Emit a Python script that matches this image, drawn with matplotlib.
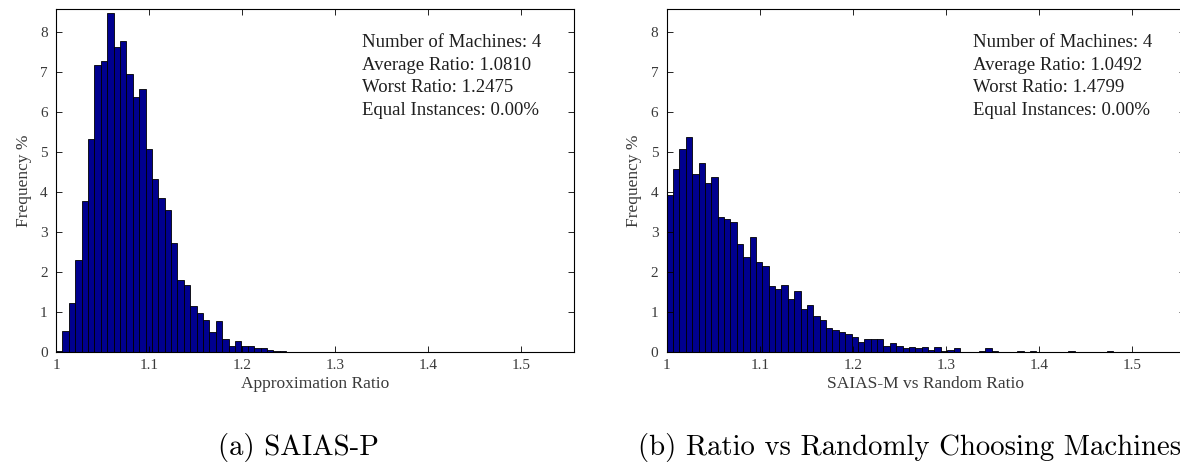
import matplotlib.pyplot as plt
import numpy as np

# histogram heights (Frequency %)
freq_p = [0.02, 0.52, 1.23, 2.29, 3.77, 5.32, 7.19, 7.29, 8.48, 7.64, 7.77, 6.96,
          6.37, 6.57, 5.08, 4.34, 3.84, 3.56, 2.72, 1.80, 1.67, 1.16, 0.97, 0.81,
          0.50, 0.77, 0.32, 0.14, 0.27, 0.15, 0.15, 0.10, 0.09, 0.05, 0.03, 0.03]
freq_m = [3.92, 4.58, 5.09, 5.37, 4.45, 4.72, 4.22, 4.38, 3.38, 3.33, 3.25, 2.69,
          2.37, 2.87, 2.26, 2.16, 1.65, 1.58, 1.68, 1.32, 1.53, 1.07, 1.17, 0.91,
          0.80, 0.61, 0.55, 0.51, 0.46, 0.37, 0.25, 0.32, 0.32, 0.32, 0.14, 0.22,
          0.16, 0.09, 0.12, 0.10, 0.12, 0.04, 0.12, 0.03, 0.05, 0.09, 0.00, 0.00,
          0.00, 0.02, 0.09, 0.02, 0.00, 0.00, 0.00, 0.02, 0.00, 0.02, 0.00, 0.00,
          0.00, 0.00, 0.00, 0.02, 0.00, 0.00, 0.00, 0.00, 0.00, 0.02]
worst_p = 1.2475
worst_m = 1.4799

info_p = ['Number of Machines: 4', 'Average Ratio: 1.0810',
          'Worst Ratio: 1.2475', 'Equal Instances: 0.00%']
info_m = ['Number of Machines: 4', 'Average Ratio: 1.0492',
          'Worst Ratio: 1.4799', 'Equal Instances: 0.00%']

xticks = [1, 1.1, 1.2, 1.3, 1.4, 1.5]
xticklabels = ['1', '1.1', '1.2', '1.3', '1.4', '1.5']
yticks = [0, 1, 2, 3, 4, 5, 6, 7, 8]

barcol = (0, 0, 0.5625)
serif = 'Liberation Serif'
fs_tick = 11
fs_lab = 12.5
fs_info = 13.5
fs_cap = 20.7

W, H = 1180, 466
fig = plt.figure(figsize=(W/100, H/100), dpi=100)


def panel(left, freq, worst, info, xlab):
	ax = fig.add_axes([left/W, (H-352)/H, 518/W, 343/H])
	nb = len(freq)
	bw = (worst-1.0)/nb
	ctr = 1.0 + bw*(np.arange(nb)+0.5)
	ax.bar(ctr, freq, width=bw, color=barcol, edgecolor='black', lw=0.6)
	ax.set_xlim(1.0, 1.557)
	ax.set_ylim(0, 8.58)
	ax.set_xticks(xticks)
	ax.set_xticklabels(xticklabels)
	ax.set_yticks(yticks)
	ax.tick_params(direction='in', top=True, right=True, length=4, width=0.6,
		labelsize=fs_tick, labelcolor='#3a3a3a')
	ax.tick_params(axis='x', pad=5)
	ax.tick_params(axis='y', pad=6)
	for lbl in ax.get_xticklabels()+ax.get_yticklabels():
		lbl.set_family(serif)
	for sp in ax.spines.values():
		sp.set_linewidth(0.8)
	ax.set_xlabel(xlab, fontsize=fs_lab, family=serif, color='#3a3a3a', labelpad=3)
	ax.set_ylabel('Frequency %', fontsize=fs_lab, family=serif, color='#3a3a3a', labelpad=6)
	for i, s in enumerate(info):
		ax.text(0.591, 0.889-i*0.066, s, transform=ax.transAxes, fontsize=fs_info,
			family=serif, color='#1e1e1e', va='baseline')
	return ax


panel(56, freq_p, worst_p, info_p, 'Approximation Ratio')
panel(666.7, freq_m, worst_m, info_m, 'SAIAS-M vs Random Ratio')

fig.text(298/W, 1-455/H, '(a) SAIAS-P', fontsize=fs_cap, family='cmr10',
	ha='center', va='baseline')
fig.text(638/W, 1-455/H, '(b) Ratio vs Randomly Choosing Machines', fontsize=fs_cap,
	family='cmr10', ha='left', va='baseline')

plt.savefig('out.png', dpi=100)
plt.close()
